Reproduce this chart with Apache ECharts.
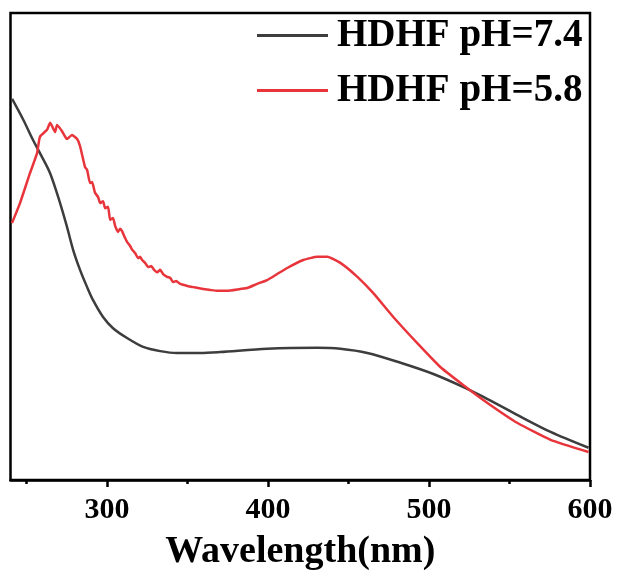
<!DOCTYPE html>
<html>
<head>
<meta charset="utf-8">
<script src="https://cdn.jsdelivr.net/npm/echarts@6/dist/echarts.min.js"></script>
<style>html,body{margin:0;padding:0;background:#fff;}#chart{width:617px;height:576px;}</style>
</head>
<body>
<div id="chart"></div>
<script>
// Wavelength (nm) and absorbance (a.u.)
const wlBlack = [241,248,254,258.3,264.6,270.8,275.1,278.9,283.2,287.6,291.3,297.5,303.7,312.4,322.4,333,343.5,357.8,370.2,399.5,430.6,444.9,461.7,482.3,502.7,521.4,533.8,555,575.5,599.1];
const absBlack = [0.816,0.771,0.728,0.700,0.657,0.593,0.542,0.493,0.450,0.413,0.385,0.349,0.325,0.304,0.285,0.276,0.272,0.272,0.274,0.281,0.283,0.281,0.272,0.251,0.227,0.199,0.178,0.139,0.103,0.069];

const wlRed = [240.9,245.9,252.1,256.5,258.3,262.7,264.6,265.8,267.7,268.9,272,275.1,278.2,281.4,283.2,286.3,287.6,289.4,290.7,292.5,294.4,295.7,297.5,298.8,300.6,301.9,303.7,305,306.8,308.1,309.3,311.2,312.4,314.3,315.6,317.4,319.3,320.5,321.8,323.6,325.5,327.4,329.2,331.1,333,334.8,337.3,339.2,341,342.9,345.4,347.3,350.4,353.5,356.6,359.7,364,368.4,374.6,382.7,387,393.2,399.5,405.7,411.9,421.9,430.6,436.8,444.9,455.5,465.4,477.8,492.7,507,521.4,536.3,555,575.5,599.1];
const absRed = [0.550,0.593,0.657,0.700,0.735,0.750,0.765,0.758,0.745,0.760,0.747,0.730,0.739,0.730,0.715,0.670,0.664,0.636,0.638,0.615,0.606,0.593,0.597,0.582,0.585,0.557,0.561,0.544,0.531,0.538,0.533,0.518,0.510,0.501,0.493,0.486,0.475,0.478,0.471,0.465,0.456,0.458,0.450,0.445,0.450,0.441,0.435,0.433,0.424,0.426,0.420,0.418,0.415,0.413,0.411,0.409,0.407,0.405,0.405,0.409,0.411,0.420,0.428,0.441,0.454,0.471,0.478,0.478,0.465,0.435,0.400,0.349,0.293,0.242,0.203,0.165,0.122,0.086,0.060];

const seriesNames = ['HDHF pH=7.4', 'HDHF pH=5.8'];
const majorTicks = [300, 400, 500, 600];
const minorTicks = [250, 350, 450, 550];
const xMin = 240, xMax = 600;

const pair = (xs, ys) => xs.map((x, i) => [x, ys[i]]);
const FONT = '"Liberation Serif", "Times New Roman", serif';

const chart = echarts.init(document.getElementById('chart'), null, {renderer: 'canvas'});
chart.setOption({
  animation: false,
  backgroundColor: '#fff',
  grid: {
    left: 10.5, right: 27, top: 13, bottom: 96,
    show: true, borderColor: '#000', borderWidth: 2.5, backgroundColor: 'transparent'
  },
  legend: {
    orient: 'vertical',
    left: 257, top: 16, padding: 0,
    itemWidth: 71, itemHeight: 3, itemGap: 16,
    icon: 'rect',
    textStyle: {fontFamily: FONT, fontWeight: 'bold', fontSize: 39, color: '#000', padding: [0, 0, 0, 4]},
    data: seriesNames
  },
  xAxis: [{
    type: 'value', min: xMin, max: xMax, position: 'bottom',
    axisLine: {show: true, lineStyle: {color: '#000', width: 2.5}},
    axisTick: {show: true, customValues: majorTicks, length: 7, lineStyle: {color: '#000', width: 2.5}},
    axisLabel: {customValues: majorTicks, margin: 15, fontFamily: FONT, fontWeight: 'bold', fontSize: 30, color: '#000'},
    splitLine: {show: false},
    name: 'Wavelength(nm)', nameLocation: 'middle', nameGap: 53,
    nameTextStyle: {fontFamily: FONT, fontWeight: 'bold', fontSize: 38, color: '#000'}
  }, {
    type: 'value', min: xMin, max: xMax, position: 'bottom',
    axisLine: {show: false},
    axisTick: {show: true, customValues: minorTicks, length: 4, lineStyle: {color: '#000', width: 2.5}},
    axisLabel: {show: false},
    splitLine: {show: false}
  }],
  yAxis: {
    type: 'value', min: 0, max: 1,
    axisLine: {show: false}, axisTick: {show: false}, axisLabel: {show: false}, splitLine: {show: false}
  },
  series: [{
    name: seriesNames[0], type: 'line', data: pair(wlBlack, absBlack),
    showSymbol: false, smooth: 0.3, lineStyle: {color: '#3d3d3d', width: 2.5}, itemStyle: {color: '#3d3d3d'}
  }, {
    name: seriesNames[1], type: 'line', data: pair(wlRed, absRed),
    showSymbol: false, smooth: 0.15, lineStyle: {color: '#e8353b', width: 2.5}, itemStyle: {color: '#e8353b'}
  }]
});
</script>
</body>
</html>
